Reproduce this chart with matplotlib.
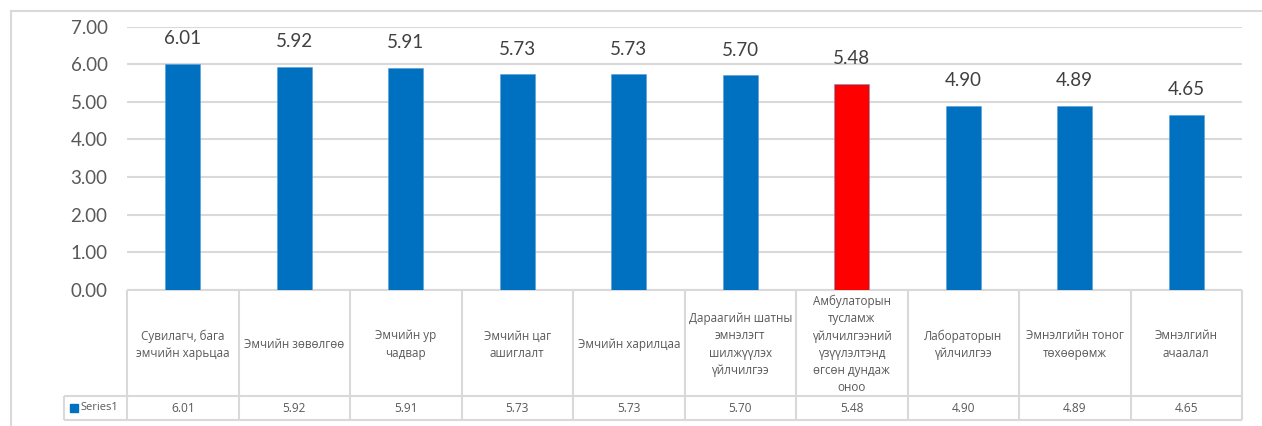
import matplotlib
matplotlib.use("Agg")
import matplotlib.pyplot as plt
import matplotlib.transforms as mtransforms
from matplotlib.patches import Rectangle

# categories (table header text, wrapped as in the data table)
categories = [
    "Сувилагч, бага\nэмчийн харьцаа",
    "Эмчийн зөвөлгөө",
    "Эмчийн ур\nчадвар",
    "Эмчийн цаг\nашиглалт",
    "Эмчийн харилцаа",
    "Дараагийн шатны\nэмнэлэгт\nшилжүүлэх\nүйлчилгээ",
    "Амбулаторын\nтусламж\nүйлчилгээний\nүзүүлэлтэнд\nөгсөн дундаж\nоноо",
    "Лабораторын\nүйлчилгээ",
    "Эмнэлгийн тоног\nтөхөөрөмж",
    "Эмнэлгийн\nачаалал",
]
values = [6.01, 5.92, 5.91, 5.73, 5.73, 5.70, 5.48, 4.90, 4.89, 4.65]
series_name = "Series1"
yticks = [0, 1, 2, 3, 4, 5, 6, 7]
highlight = "Амбулаторын\nтусламж\nүйлчилгээний\nүзүүлэлтэнд\nөгсөн дундаж\nоноо"

W, H = 1262, 426
BLUE = "#0070C0"
RED = "#FF0000"
GRID = "#D9D9D9"
TXT = "#595959"
NUM_FONT = ["Lato", "Open Sans", "DejaVu Sans"]
LBL_FONT = ["Open Sans", "DejaVu Sans"]

fig = plt.figure(figsize=(W / 100, H / 100), dpi=100)

# full-figure overlay in pixel units for the chart frame and data table
over = fig.add_axes([0, 0, 1, 1], zorder=0)
over.set_xlim(0, W)
over.set_ylim(H, 0)
over.axis("off")

# plot area: x 127..1242 px, y 26.5 (7.00) .. 290 (0.00)
x0, x1, ytop, ybot = 127, 1242, 26.5, 290
ax = fig.add_axes([x0 / W, (H - ybot) / H, (x1 - x0) / W, (ybot - ytop) / H], zorder=2)
ax.patch.set_alpha(0)

n = len(values)
xs = list(range(n))
colors = [RED if c == highlight else BLUE for c in categories]
ax.bar(xs, values, width=0.31, color=colors, edgecolor="#5B9BD5", linewidth=0.4, zorder=3)
for x, v in zip(xs, values):
    ax.annotate(f"{v:.2f}", (x, v), xytext=(0, 12), textcoords="offset points",
                ha="center", va="bottom", fontsize=13.5, color="#404040", family=NUM_FONT)

ax.set_xlim(-0.5, n - 0.5)
ax.set_ylim(0, 7)
ax.set_yticks(yticks)
ax.set_yticklabels([f"{t:.2f}" for t in yticks], fontsize=13.5, color=TXT, family=NUM_FONT)
ax.tick_params(axis="y", length=0, pad=14)
ax.set_xticks([])
ax.grid(axis="y", color=GRID, linewidth=1.5, zorder=0)
for s in ["top", "right", "left", "bottom"]:
    ax.spines[s].set_visible(False)

# chart frame (top and left edges visible)
over.plot([11, W + 5], [10.5, 10.5], color=GRID, lw=1.5)
over.plot([11, 11], [10.5, H + 5], color=GRID, lw=1.5)

# data table below the axis, columns follow the bar axis scale
tr = mtransforms.blended_transform_factory(ax.transData, over.transData)
row_top, row_mid, row_bot = 290, 396, 420
lk = dict(color=GRID, lw=1.5, solid_capstyle="butt")
over.plot([-0.5, n - 0.5], [row_top, row_top], transform=tr, **lk)
over.plot([-0.5, n - 0.5], [row_mid, row_mid], transform=tr, **lk)
over.plot([-0.5, n - 0.5], [row_bot, row_bot], transform=tr, **lk)
for e in range(n + 1):
    over.plot([e - 0.5, e - 0.5], [row_top, row_bot], transform=tr, **lk)

# legend key cell
over.plot([64, x0], [row_mid, row_mid], **lk)
over.plot([64, x0], [row_bot, row_bot], **lk)
over.plot([64, 64], [row_mid, row_bot], **lk)
over.add_patch(Rectangle((70, 404), 8, 8, color=BLUE))
over.text(80, (row_mid + row_bot) / 2, series_name, ha="left", va="center",
          fontsize=8, color=TXT, family=LBL_FONT)

for x, c, v in zip(xs, categories, values):
    over.text(x, (row_top + row_mid) / 2 + 1.5, c, transform=tr, ha="center", va="center",
              multialignment="center", fontsize=8.4, color=TXT, family=LBL_FONT,
              linespacing=1.42)
    over.text(x, (row_mid + row_bot) / 2, f"{v:.2f}", transform=tr, ha="center",
              va="center", fontsize=8.6, color=TXT, family=LBL_FONT)

fig.savefig("out.png", dpi=100, facecolor="white")
